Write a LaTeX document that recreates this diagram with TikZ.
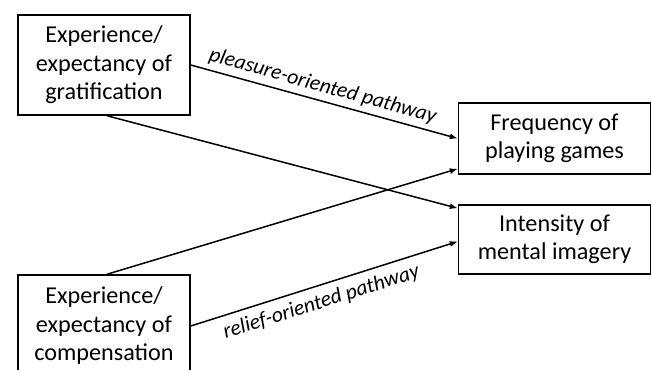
\documentclass[tikz,border=0pt]{standalone}
\usepackage{fontspec}
\setmainfont{Carlito}
\usetikzlibrary{arrows.meta}
\begin{document}
\begin{tikzpicture}[x=1pt,y=-1pt,
 box/.style={draw, line width=1.5pt, align=center, inner sep=0pt, font=\fontsize{24.2}{28.5}\selectfont},
 arr/.style={line width=1.5pt, -{Latex[length=8pt,width=6pt]}},
 lab/.style={font=\fontsize{21.5}{24}\selectfont\itshape, sloped}]
\useasboundingbox (0,0) rectangle (652,369);
\clip (0,0) rectangle (652,369);
\node[box, minimum width=172pt, minimum height=100pt] (A) at (104,65) {Experience/\\expectancy of\\gratification};
\node[box, minimum width=172pt, minimum height=102pt] (B) at (104,326) {Experience/\\expectancy of\\compensation};
\node[box, minimum width=192pt, minimum height=71pt] (C) at (554.5,138.5) {Frequency of\\playing games};
\node[box, minimum width=192pt, minimum height=69pt] (D) at (554.5,239.5) {Intensity of\\mental imagery};
\draw[arr] (A.east) -- node[lab, above, pos=0.48, inner sep=4.5pt] {pleasure-oriented pathway} (C.west);
\draw[arr] ([xshift=3pt]A.south) -- ([yshift=-4pt]D.north west);
\draw[arr] ([xshift=3pt]B.north) -- ([yshift=6pt]C.south west);
\draw[arr] (B.east) -- node[lab, below, pos=0.47, inner sep=7pt] {relief-oriented pathway} ([yshift=-2pt]D.west);
\end{tikzpicture}
\end{document}
